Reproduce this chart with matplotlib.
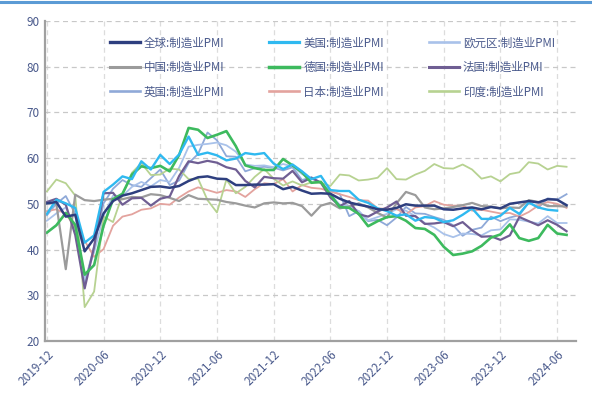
import matplotlib
matplotlib.use("Agg")
import matplotlib.pyplot as plt
from matplotlib.lines import Line2D

plt.rcParams['font.family'] = ['Noto Sans CJK SC', 'DejaVu Sans']

# Monthly manufacturing PMI, 2019-12 .. 2024-07
tick_labels = ["2019-12", "2020-06", "2020-12", "2021-06", "2021-12",
               "2022-06", "2022-12", "2023-06", "2023-12", "2024-06"]

global_pmi = [50.1, 50.4, 47.2, 47.6, 39.6, 42.4, 47.9, 50.6, 51.8, 52.3, 53.0, 53.7, 53.8,
              53.5, 53.9, 55.0, 55.8, 56.0, 55.5, 55.4, 54.1, 54.1, 54.2, 54.2, 54.3,
              53.2, 53.7, 52.9, 52.2, 52.3, 52.2, 51.1, 50.3, 49.8, 49.4, 48.8, 48.7,
              49.1, 49.9, 49.6, 49.6, 49.6, 48.8, 48.7, 49.0, 49.2, 48.8, 49.3, 49.0,
              50.0, 50.3, 50.6, 50.3, 51.0, 50.9, 49.7]
us_pmi = [47.8, 50.9, 50.1, 49.1, 41.5, 43.1, 52.6, 54.2, 56.0, 55.4, 59.3, 57.5, 60.7,
          58.7, 60.8, 64.7, 60.7, 61.2, 60.6, 59.5, 59.9, 61.1, 60.8, 61.1, 58.8,
          57.6, 58.6, 57.1, 55.4, 56.1, 53.0, 52.8, 52.8, 50.9, 50.2, 49.0, 48.4,
          47.4, 47.7, 46.3, 47.1, 46.9, 46.0, 46.4, 47.6, 49.0, 46.7, 46.7, 47.4,
          49.1, 47.8, 50.3, 49.2, 48.7, 48.5]
ez_pmi = [46.3, 47.9, 49.2, 44.5, 33.4, 39.4, 47.4, 51.8, 51.7, 53.7, 54.8, 53.8, 55.2,
          54.8, 57.9, 62.5, 62.9, 63.1, 63.4, 62.8, 61.4, 58.6, 58.3, 58.4, 58.0,
          58.7, 58.2, 56.5, 55.5, 54.6, 52.1, 49.8, 49.6, 48.4, 46.4, 47.1, 47.8,
          48.8, 48.5, 47.3, 45.8, 44.8, 43.4, 42.7, 43.5, 43.4, 43.1, 44.2, 44.4,
          46.6, 46.5, 46.1, 45.7, 47.3, 45.8, 45.8]
china_pmi = [50.2, 50.0, 35.7, 52.0, 50.8, 50.6, 50.9, 51.1, 51.0, 51.5, 51.4, 52.1, 51.9,
             51.3, 50.6, 51.9, 51.1, 51.0, 50.9, 50.4, 50.1, 49.6, 49.2, 50.1, 50.3,
             50.1, 50.2, 49.5, 47.4, 49.6, 50.2, 49.0, 49.4, 50.1, 49.2, 48.0, 47.0,
             50.1, 52.6, 51.9, 49.2, 48.8, 49.0, 49.3, 49.7, 50.2, 49.5, 49.4, 49.0,
             49.2, 49.1, 50.8, 50.4, 49.5, 49.5, 49.4]
germany_pmi = [43.7, 45.3, 48.0, 45.4, 34.5, 36.6, 45.2, 51.0, 52.2, 56.4, 58.2, 57.8, 58.3,
               57.1, 60.7, 66.6, 66.2, 64.4, 65.1, 65.9, 62.6, 58.4, 57.8, 57.4, 57.4,
               59.8, 58.4, 56.9, 54.6, 54.8, 52.0, 49.3, 49.1, 47.8, 45.1, 46.2, 47.1,
               47.3, 46.3, 44.7, 44.5, 43.2, 40.6, 38.8, 39.1, 39.6, 40.8, 42.6, 43.3,
               45.5, 42.5, 41.9, 42.5, 45.4, 43.5, 43.2]
france_pmi = [50.4, 51.1, 49.8, 43.2, 31.5, 40.6, 52.3, 52.4, 49.8, 51.2, 51.3, 49.6, 51.1,
              51.6, 56.1, 59.3, 58.9, 59.4, 59.0, 58.0, 57.5, 55.0, 53.6, 55.9, 55.6,
              55.5, 57.2, 54.7, 55.7, 54.6, 51.4, 49.5, 50.6, 47.7, 47.2, 48.3, 49.2,
              50.5, 47.4, 47.3, 45.6, 45.7, 46.0, 45.1, 46.0, 44.2, 42.8, 42.9, 42.1,
              43.1, 47.1, 46.2, 45.3, 46.4, 45.4, 44.0]
uk_pmi = [47.5, 50.0, 51.7, 47.8, 32.6, 40.7, 50.1, 53.3, 55.2, 54.1, 53.7, 55.6, 57.5,
          54.1, 55.1, 58.9, 60.9, 65.6, 63.9, 60.4, 60.3, 57.1, 57.8, 58.1, 57.9,
          57.3, 58.0, 55.2, 55.8, 54.6, 52.8, 52.1, 47.3, 48.4, 46.2, 46.5, 45.3,
          47.0, 49.3, 47.9, 47.8, 47.1, 46.5, 45.3, 43.0, 44.3, 44.8, 47.2, 46.2,
          47.0, 47.5, 50.3, 49.1, 51.2, 50.9, 52.1]
japan_pmi = [48.4, 48.8, 47.8, 44.8, 41.9, 38.4, 40.1, 45.2, 47.2, 47.7, 48.7, 49.0, 50.0,
             49.8, 51.4, 52.7, 53.6, 53.0, 52.4, 53.0, 52.7, 51.5, 53.2, 54.5, 54.3,
             55.4, 52.7, 54.1, 53.5, 53.3, 52.7, 52.1, 51.5, 50.8, 50.7, 49.0, 48.9,
             48.9, 47.7, 49.2, 49.5, 50.6, 49.8, 49.6, 49.6, 48.5, 48.7, 48.3, 47.9,
             48.0, 47.2, 48.2, 49.6, 50.4, 50.0, 49.1]
india_pmi = [52.7, 55.3, 54.5, 51.8, 27.4, 30.8, 47.2, 46.0, 52.0, 56.8, 58.9, 56.3, 56.4,
             57.7, 57.5, 55.4, 55.5, 50.8, 48.1, 55.3, 52.3, 53.7, 55.9, 57.6, 55.5,
             54.0, 54.9, 54.0, 54.7, 54.6, 53.9, 56.4, 56.2, 55.1, 55.3, 55.7, 57.8,
             55.4, 55.3, 56.4, 57.2, 58.7, 57.8, 57.7, 58.6, 57.5, 55.5, 56.0, 54.9,
             56.5, 56.9, 59.1, 58.8, 57.5, 58.3, 58.1]

series = [
    ("英国:制造业PMI", uk_pmi, "#8fa9d8", 1.3),
    ("欧元区:制造业PMI", ez_pmi, "#a9c2ea", 1.3),
    ("日本:制造业PMI", japan_pmi, "#e3a39e", 1.3),
    ("印度:制造业PMI", india_pmi, "#b7d291", 1.3),
    ("中国:制造业PMI", china_pmi, "#9b9b9b", 1.6),
    ("法国:制造业PMI", france_pmi, "#6f5e93", 1.6),
    ("德国:制造业PMI", germany_pmi, "#3dba5e", 1.9),
    ("美国:制造业PMI", us_pmi, "#2fb9f0", 1.7),
    ("全球:制造业PMI", global_pmi, "#2e3f7f", 1.8),
]

fig = plt.figure(figsize=(5.92, 4.03), dpi=100)
ax = fig.add_axes([0.076, 0.154, 0.897, 0.794])

handles = {}
for name, vals, color, lw in series:
    ax.plot(range(len(vals)), vals, color=color, lw=lw, solid_joinstyle="round")
    handles[name] = Line2D([], [], color=color, lw=lw + 0.6)

ax.set_ylim(20, 90)
ax.set_xlim(-0.2, 56)
ax.set_yticks(range(20, 91, 10))
ax.set_xticks(range(0, 55, 6))
ax.set_xticklabels(tick_labels, rotation=45, ha="right", rotation_mode="anchor")

label_color = "#4a5a8c"
ax.tick_params(axis="both", colors=label_color, labelsize=8.5, length=0, pad=4)
ax.tick_params(axis="x", pad=5)

ax.grid(axis="y", color="#c8c8c8", lw=0.9, ls=(0, (4, 3)))
ax.grid(axis="x", color="#dcdcdc", lw=0.9, ls=(0, (4, 3)))
ax.set_axisbelow(True)
for side in ("top", "right"):
    ax.spines[side].set_visible(False)
for side in ("left", "bottom"):
    ax.spines[side].set_color("#a0a0a0")
    ax.spines[side].set_linewidth(1.6)

# legend laid out row by row: 3 columns
order = ["全球:制造业PMI", "中国:制造业PMI", "英国:制造业PMI",
         "美国:制造业PMI", "德国:制造业PMI", "日本:制造业PMI",
         "欧元区:制造业PMI", "法国:制造业PMI", "印度:制造业PMI"]
leg = ax.legend([handles[k] for k in order], order, ncol=3, frameon=False,
                loc="upper left", bbox_to_anchor=(0.122, 0.952),
                prop={"size": 8.3}, handlelength=2.6, handletextpad=0.35,
                columnspacing=3.9, labelspacing=1.0, borderaxespad=0,
                borderpad=0)
for t in leg.get_texts():
    t.set_color(label_color)

# thin accent rule across the top edge
fig.add_artist(Line2D([0, 1], [0.995, 0.995], color="#5b9bd5", lw=2.2,
                      transform=fig.transFigure))

fig.savefig("out.png", dpi=100)
